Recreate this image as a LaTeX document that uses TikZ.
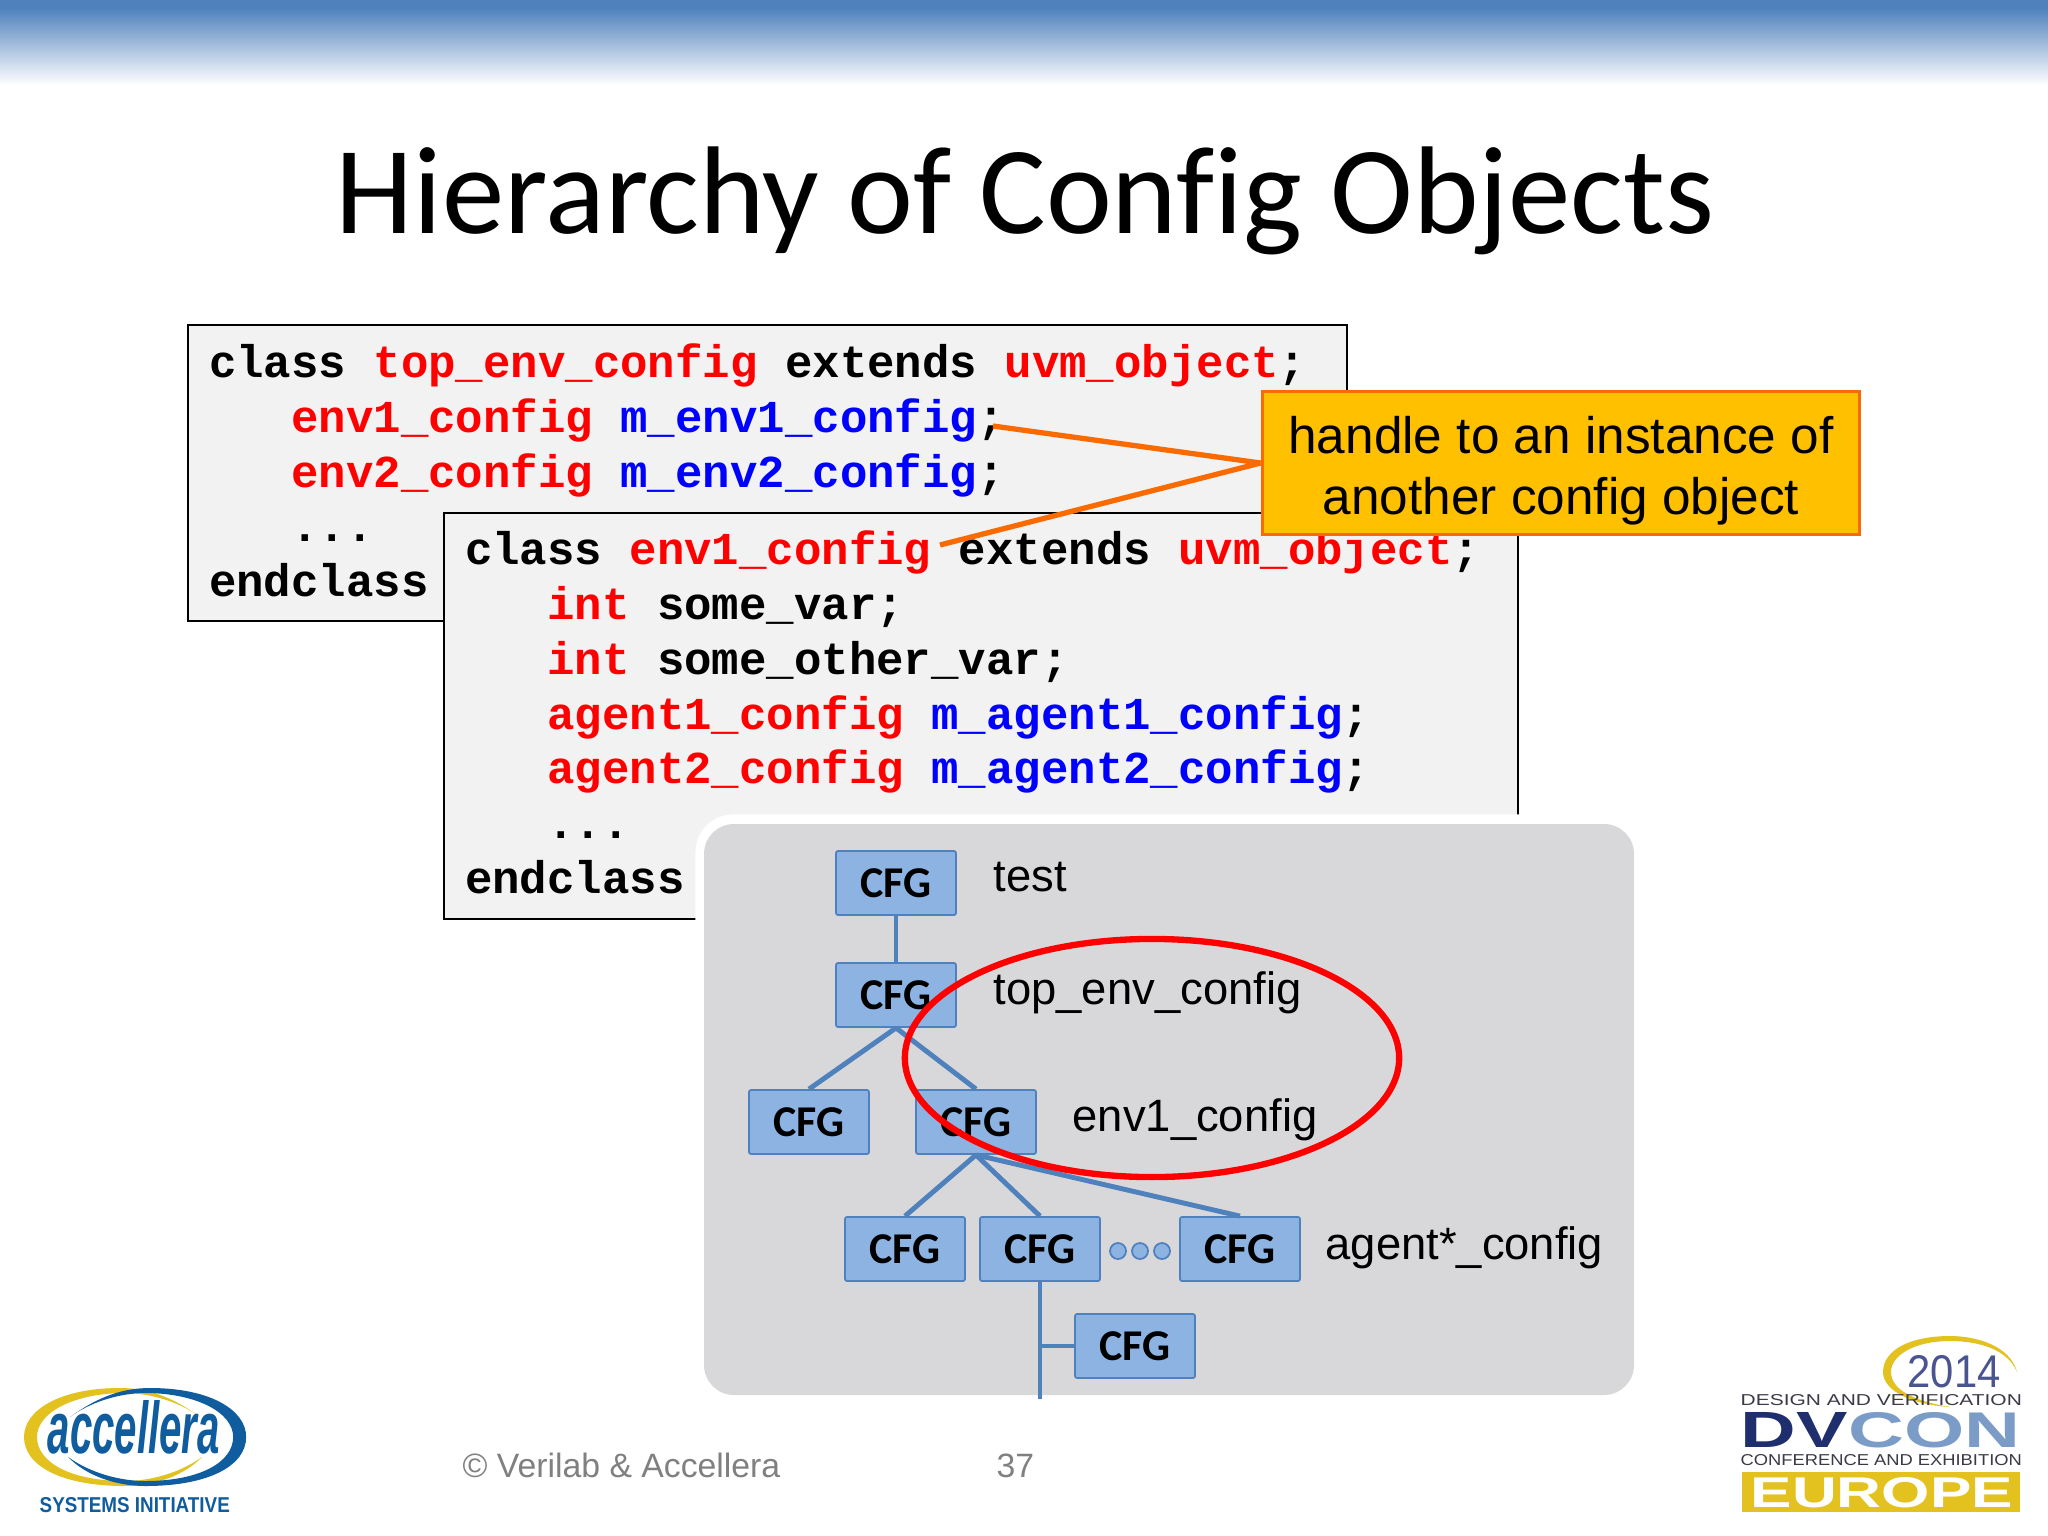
\documentclass[tikz,border=0pt]{standalone}
\usepackage{fontspec}
\setmainfont{Liberation Sans}
\setmonofont{Liberation Mono}
\newfontfamily\titlefont[Ligatures=NoCommon]{Carlito}
\usetikzlibrary{shapes.geometric}
\definecolor{cfgfill}{HTML}{8DB3E2}
\definecolor{cfgline}{HTML}{4F81BD}
\definecolor{panelgrey}{HTML}{D8D8DA}
\definecolor{calloutfill}{HTML}{FFC000}
\definecolor{calloutline}{HTML}{F96B00}
\definecolor{acblue}{HTML}{0F5C9E}
\definecolor{acyellow}{HTML}{E3C21F}
\definecolor{dvnavy}{HTML}{1F2F6E}
\definecolor{dvlight}{HTML}{7C9CC8}
\definecolor{dvgrey}{HTML}{3A3A48}
\definecolor{dvyear}{HTML}{4A5590}
\newcommand{\rd}[1]{\textcolor{red}{#1}}
\newcommand{\bl}[1]{\textcolor{blue}{#1}}
\newcommand{\sk}{\hspace*{0.6em}}
\newcommand{\crescent}{(200,1417) .. controls (170,1395) and (145,1388) .. (120,1388) .. controls (60,1388) and (24,1410) .. (24,1437) .. controls (24,1465) and (60,1486) .. (125,1486) .. controls (155,1486) and (185,1475) .. (202,1457) .. controls (180,1473) and (150,1481) .. (125,1481) .. controls (70,1481) and (37,1462) .. (37,1437) .. controls (37,1412) and (75,1393) .. (125,1393) .. controls (150,1393) and (180,1402) .. (200,1417) -- cycle}
\tikzset{
    codebox/.style={draw=black, line width=0.6pt, fill=black!5, anchor=north west, inner xsep=0.21cm, inner ysep=0pt,
        align=left, font=\ttfamily\bfseries\fontsize{13}{15.6}\selectfont},
    cfg/.style={draw=cfgline, line width=0.5pt, fill=cfgfill, rounded corners=0.6pt, minimum width=1.2cm, minimum height=0.64cm,
        inner sep=0pt, font=\titlefont\bfseries\fontsize{12.5}{14}\selectfont},
    link/.style={draw=cfgline, line width=1.4pt},
    ovaldot/.style={circle, draw=cfgline, line width=0.5pt, fill=cfgfill, minimum size=0.16cm, inner sep=0pt},
    tag/.style={anchor=base west, inner sep=0pt, font=\fontsize{12.9}{15}\selectfont},
    foot/.style={anchor=base west, inner sep=0pt, text=black!50, font=\fontsize{9.6}{11}\selectfont},
    pointer/.style={draw=calloutline, line width=1.5pt},
    logotext/.style={anchor=base west, inner sep=0pt}
}
\begin{document}
\begin{tikzpicture}[x=0.01cm, y=-0.01cm]
    \fill[white] (0,0) rectangle (2048,1536);
    \shade[top color=cfgline, bottom color=white] (0,8) rectangle (2048,85);
    \fill[cfgline] (0,0) rectangle (2048,8);
    \node[anchor=base, inner sep=0pt, font=\titlefont\fontsize{35.5}{42}\selectfont] (title) at (1025,233) {Hierarchy of Config Objects};

    % code boxes
    \node[codebox, text width=11.16cm, minimum height=2.96cm] (topcode) at (187,324) {class\sk\rd{top\_env\_config}\sk extends\sk\rd{uvm\_object};\\
        \sk\sk\sk\rd{env1\_config}\sk\bl{m\_env1\_config};\\
        \sk\sk\sk\rd{env2\_config}\sk\bl{m\_env2\_config};\\
        \sk\sk\sk...\\
        endclass\rule[-0.06cm]{0pt}{0pt}};
    \node[codebox, text width=10.31cm, minimum height=4.06cm] (envcode) at (443,512) {class\sk\rd{env1\_config}\sk extends\sk\rd{uvm\_object};\\
        \sk\sk\sk\rd{int}\sk some\_var;\\
        \sk\sk\sk\rd{int}\sk some\_other\_var;\\
        \sk\sk\sk\rd{agent1\_config}\sk\bl{m\_agent1\_config};\\
        \sk\sk\sk\rd{agent2\_config}\sk\bl{m\_agent2\_config};\\
        \sk\sk\sk...\\
        endclass\rule[-0.08cm]{0pt}{0pt}};

    % handle callout
    \node[draw=calloutline, line width=1pt, fill=calloutfill, minimum width=5.97cm, minimum height=1.43cm, inner sep=0pt,
        align=center, text depth=0pt, font=\fontsize{14.6}{17.5}\selectfont] (handle) at (1561,463) {\rule{0pt}{0.42cm}handle to an instance of\\another config object};
    \coordinate (semi) at (993,426);
    \coordinate (cname) at (940,545);
    \draw[pointer] (handle.west) -- (semi);
    \draw[pointer] (handle.west) -- (cname);

    % hierarchy panel
    \draw[white, line width=2pt, fill=white, rounded corners=0.34cm] (699,818) rectangle (1634,1395);
    \fill[panelgrey, rounded corners=0.3cm] (704,824) rectangle (1634,1395);

    \node[cfg] (test) at (896,883) {CFG};
    \node[cfg] (top) at (896,995) {CFG};
    \node[cfg] (other) at (809,1122) {CFG};
    \node[cfg] (env) at (976,1122) {CFG};
    \node[cfg] (agenta) at (905,1249) {CFG};
    \node[cfg] (agentb) at (1040,1249) {CFG};
    \node[cfg] (agentc) at (1240,1249) {CFG};
    \node[cfg] (sub) at (1135,1346) {CFG};
    \node[ovaldot] (dota) at (1118,1251) {};
    \node[ovaldot] (dotb) at (1140,1251) {};
    \node[ovaldot] (dotc) at (1162,1251) {};
    \coordinate (tail) at (1040,1399);

    \draw[link] (test) -- (top);
    \draw[link] (top.south) -- (other.north);
    \draw[link] (top.south) -- (env.north);
    \draw[link] (env.south) -- (agenta.north);
    \draw[link] (env.south) -- (agentb.north);
    \draw[link] (env.south) -- (agentc.north);
    \draw[link] (agentb) -- (tail);
    \draw[link] (agentb.south |- sub.west) -- (sub.west);

    \node[tag] (testlabel) at (993,891) {test};
    \node[tag] (toplabel) at (993,1004) {top\_env\_config};
    \node[tag] (envlabel) at (1072,1131) {env1\_config};
    \node[tag] (agentlabel) at (1325,1259) {agent*\_config};

    \draw[red, line width=1.8pt] (1152,1058) ellipse [x radius=2.47cm, y radius=1.19cm];

    % footer
    \node[foot] (copy) at (462,1477) {© Verilab \& Accellera};
    \node[foot] (page) at (996,1477) {37};

    % accellera logo
    \fill[acyellow] \crescent;
    \begin{scope}[xshift=2.7cm, xscale=-1]
        \fill[acblue] \crescent;
    \end{scope}
    \node[logotext, text=acblue] (acname) at (47,1453) {\resizebox{1.72cm}{0.53cm}{\bfseries\itshape accellera}};
    \node[logotext, text=acblue] (acsub) at (39,1512) {\resizebox{1.90cm}{0.15cm}{\bfseries SYSTEMS INITIATIVE}};

    % dvcon logo
    \fill[acyellow] (2017,1372) .. controls (2010,1345) and (1975,1336) .. (1950,1336) .. controls (1910,1336) and (1883,1350) .. (1883,1372) .. controls (1883,1392) and (1915,1405) .. (1950,1407) .. controls (1920,1402) and (1891,1392) .. (1891,1372) .. controls (1891,1355) and (1915,1341) .. (1950,1341) .. controls (1980,1341) and (2008,1350) .. (2017,1372) -- cycle;
    \node[logotext, text=dvyear] (year) at (1907,1387) {\resizebox{0.93cm}{0.32cm}{2014}};
    \node[logotext, text=dvgrey] (design) at (1740,1405) {\resizebox{2.81cm}{0.11cm}{DESIGN AND VERIFICATION}};
    \node[logotext, text=dvnavy] (dv) at (1740,1447) {\resizebox{1.07cm}{0.35cm}{\bfseries DV}};
    \node[logotext, text=dvlight] (con) at (1848,1447) {\resizebox{1.72cm}{0.35cm}{\bfseries CON}};
    \node[logotext, text=dvgrey] (conf) at (1740,1465) {\resizebox{2.81cm}{0.11cm}{CONFERENCE AND EXHIBITION}};
    \fill[acyellow] (1742,1472) rectangle (2020,1512);
    \node[logotext, text=white] (europe) at (1750,1507) {\resizebox{2.62cm}{0.30cm}{\bfseries EUROPE}};
\end{tikzpicture}
\end{document}
